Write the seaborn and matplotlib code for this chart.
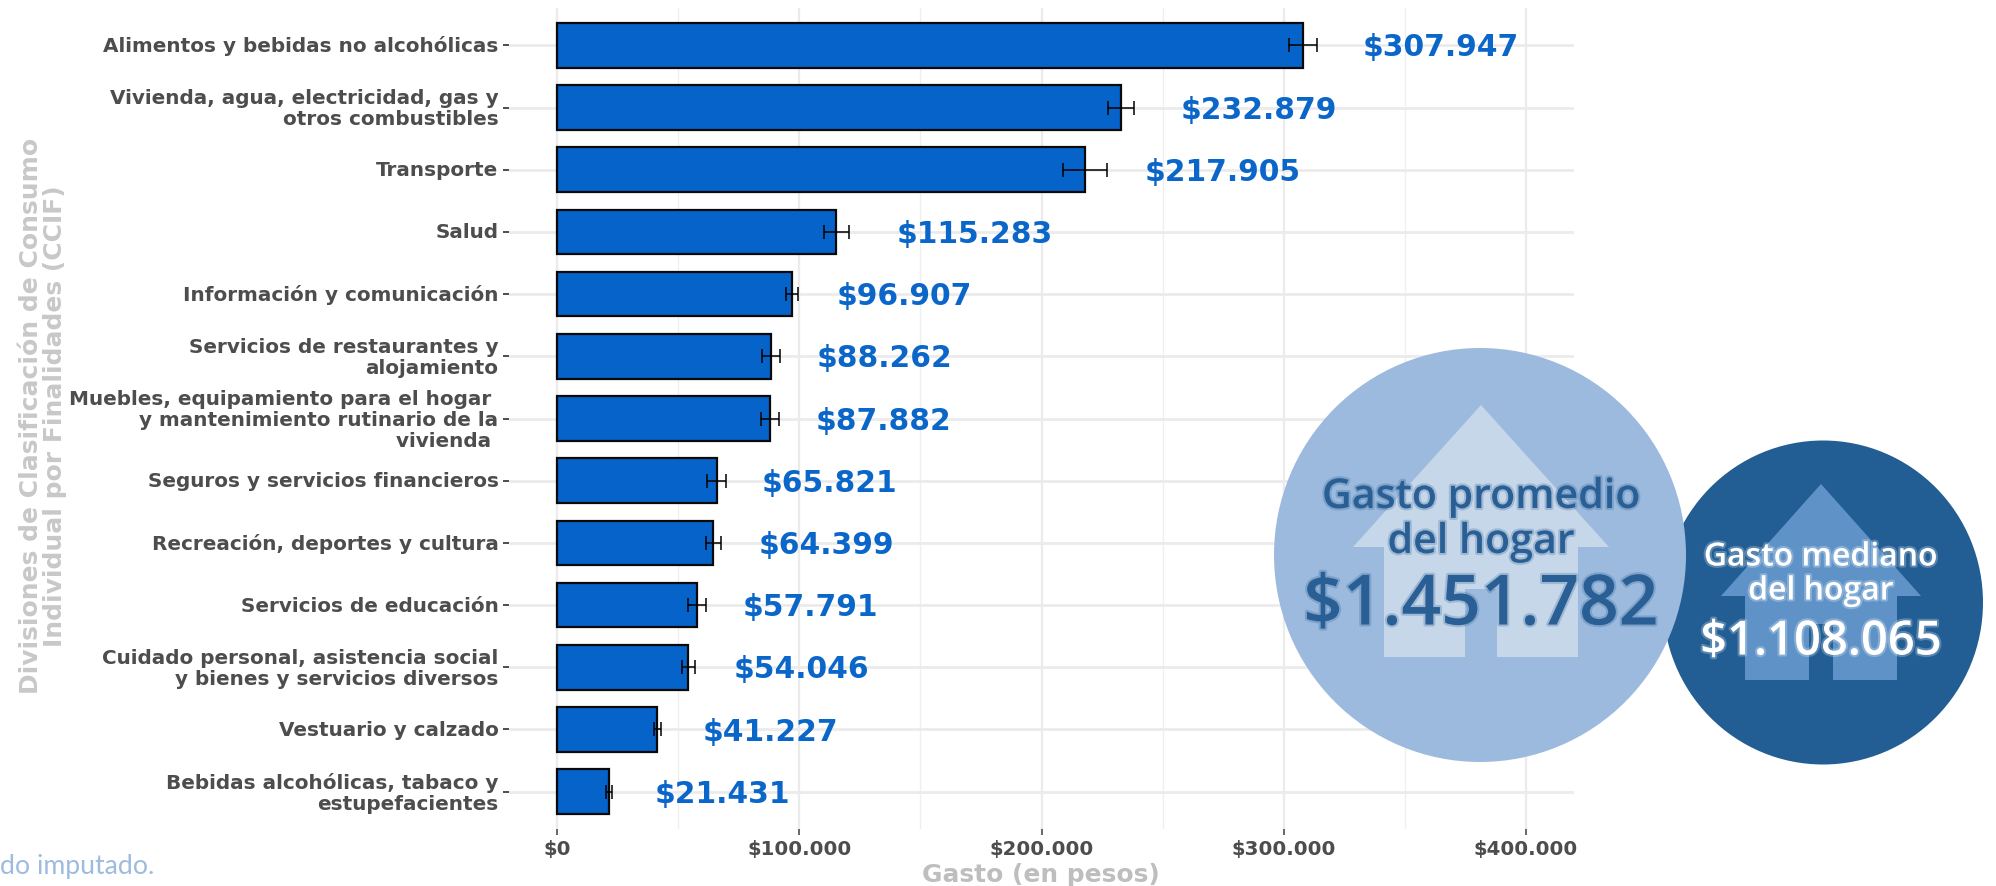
import matplotlib
matplotlib.use("Agg")
import matplotlib.pyplot as plt
import matplotlib.patheffects as pe
from matplotlib.patches import Ellipse, Polygon
from matplotlib.transforms import ScaledTranslation
import pandas as pd
import seaborn as sns

categorias = [
    "Alimentos y bebidas no alcohólicas",
    "Vivienda, agua, electricidad, gas y\notros combustibles",
    "Transporte",
    "Salud",
    "Información y comunicación",
    "Servicios de restaurantes y\nalojamiento",
    "Muebles, equipamiento para el hogar \ny mantenimiento rutinario de la\nvivienda ",
    "Seguros y servicios financieros",
    "Recreación, deportes y cultura",
    "Servicios de educación",
    "Cuidado personal, asistencia social\ny bienes y servicios diversos",
    "Vestuario y calzado",
    "Bebidas alcohólicas, tabaco y\nestupefacientes",
]
gasto = [307947, 232879, 217905, 115283, 96907, 88262, 87882, 65821, 64399, 57791, 54046, 41227, 21431]
error = [5700, 5500, 9000, 5100, 2600, 3900, 3700, 4000, 3200, 3800, 2600, 1400, 1300]
ticks_x = [0, 100000, 200000, 300000, 400000]
ticks_menores = [50000, 150000, 250000, 350000]

AZUL = "#0563C9"
W, H = 1996, 887


def pesos(v):
    return "$" + f"{v:,}".replace(",", ".")


sns.set_theme(style="whitegrid")
df = pd.DataFrame({"categoria": categorias, "gasto": gasto})

fig = plt.figure(figsize=(W / 100, H / 100), dpi=100)
ax = fig.add_axes([509 / W, 1 - 830 / H, (1574 - 509) / W, (830 - 9) / H])

sns.barplot(data=df, y="categoria", x="gasto", color=AZUL, saturation=1, width=0.72,
            edgecolor="#0a0a0a", linewidth=1.6, ax=ax, zorder=3)
ax.errorbar(gasto, range(len(gasto)), xerr=error, fmt="none", ecolor="black",
            elinewidth=1.1, capsize=5, capthick=1.1, zorder=4)

for i, v in enumerate(gasto):
    # los de 6 digitos van un poco mas lejos
    off = 43 if v >= 100000 else 32.5
    ax.annotate(pesos(v), (v, i), xytext=(off, -1.2), textcoords="offset points", ha="left",
                va="center", color="#0B66C9", fontweight="bold", fontsize=21.4)

ax.set_xlim(-20000, 420000)
ax.set_ylim(12.6, -0.6)
ax.set_xticks(ticks_x)
ax.set_xticklabels([pesos(v) for v in ticks_x])
ax.set_xticks(ticks_menores, minor=True)
ax.set_axisbelow(True)
ax.grid(False)
ax.grid(axis="x", which="major", color="#EBEBEB", linewidth=1.6)
ax.grid(axis="x", which="minor", color="#EFEFEF", linewidth=0.9)
ax.grid(axis="y", which="major", color="#EBEBEB", linewidth=2)
sns.despine(ax=ax, left=True, bottom=True)

ax.tick_params(axis="y", length=4.5, width=1.4, color="#4D4D4D", pad=3, left=True)
ax.tick_params(axis="x", which="major", length=4, width=1.2, color="#4D4D4D", pad=3, bottom=True)
ax.tick_params(axis="x", which="minor", length=0)
sube = ScaledTranslation(0, 1.5 / 72, fig.dpi_scale_trans)
for t in ax.get_yticklabels():
    t.set(color="#4D4D4D", fontweight="bold", fontsize=14.4, linespacing=1.12)
    t.set_transform(t.get_transform() + sube)
for t in ax.get_xticklabels():
    t.set(color="#4D4D4D", fontweight="bold", fontsize=14.2)

ax.set_xlabel("")
ax.set_ylabel("")
fig.text(1041 / W, 1 - 875 / H, "Gasto (en pesos)", color="#BEBEBE", fontweight="bold",
         fontsize=17.9, ha="center", va="center")
fig.text(43 / W, 1 - 416 / H, "Divisiones de Clasificación de Consumo\nIndividual por Finalidades (CCIF)",
         color="#C8C8C8", fontweight="bold", fontsize=18, rotation=90, ha="center",
         va="center", linespacing=1.0, multialignment="center")
fig.text(0, 1 - 867 / H, "do imputado.", color="#9DBBDF", fontsize=19.2, family="Lato",
         ha="left", va="center")

# circulos con la casita, encima del grafico
ov = fig.add_axes([0, 0, 1, 1], zorder=5)
ov.set_xlim(0, W)
ov.set_ylim(H, 0)
ov.axis("off")


def casa(cx, apex, hombro, base, media, alero, gap, corte, color, z):
    pts = [(cx, apex), (cx + alero, hombro), (cx + media, hombro), (cx + media, base),
           (cx + gap, base), (cx + gap, corte), (cx - gap, corte), (cx - gap, base),
           (cx - media, base), (cx - media, hombro), (cx - alero, hombro)]
    ov.add_patch(Polygon(pts, closed=True, color=color, lw=0, zorder=z))


ov.add_patch(Ellipse((1823, 603.5), 320, 324, color="#225E94", lw=0, zorder=1))
casa(1821, 485, 597, 681, 76, 100, 12, 625, "#5F93C8", 2)
ov.add_patch(Ellipse((1480, 556), 412, 414, color="#9BBADD", lw=0, zorder=3))
casa(1481, 406, 548, 658, 97, 128, 16, 590, "#C6D7EA", 4)

sombra_osc = [pe.withStroke(linewidth=3, foreground="#2A5F95", alpha=0.25)]
for txt, y, fs in [("Gasto promedio", 498, 29.6), ("del hogar", 543, 29.6), ("$1.451.782", 608, 50)]:
    ov.text(1481, y, txt, color="#2A5F95", fontsize=fs, family="Open Sans", fontweight="semibold",
            ha="center", va="center", zorder=6, path_effects=sombra_osc)
sombra_cla = [pe.withStroke(linewidth=3, foreground="white", alpha=0.25)]
for txt, y, fs in [("Gasto mediano", 558, 23), ("del hogar", 592, 23), ("$1.108.065", 643, 34)]:
    ov.text(1821, y, txt, color="white", fontsize=fs, family="Open Sans", fontweight="semibold",
            ha="center", va="center", zorder=6, path_effects=sombra_cla)

fig.savefig("out.png", dpi=100, facecolor="white")
